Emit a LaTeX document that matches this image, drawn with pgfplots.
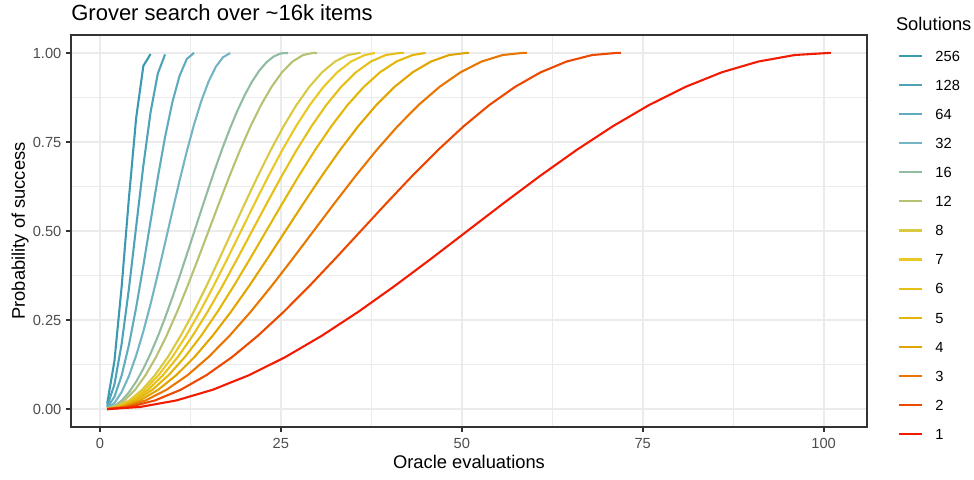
\documentclass[border=0pt]{standalone}
\usepackage{fontspec}
\setmainfont{Liberation Sans}
\usepackage{pgfplots}
\pgfplotsset{compat=1.18}
\definecolor{cA}{RGB}{59,154,178}
\definecolor{cB}{RGB}{78,163,184}
\definecolor{cC}{RGB}{96,172,190}
\definecolor{cD}{RGB}{115,181,196}
\definecolor{cE}{RGB}{146,188,161}
\definecolor{cF}{RGB}{182,194,114}
\definecolor{cG}{RGB}{217,201,66}
\definecolor{cH}{RGB}{234,200,36}
\definecolor{cI}{RGB}{230,191,23}
\definecolor{cJ}{RGB}{227,182,10}
\definecolor{cK}{RGB}{226,164,0}
\definecolor{cL}{RGB}{232,118,0}
\definecolor{cM}{RGB}{237,72,0}
\definecolor{cN}{RGB}{242,26,0}
\definecolor{gridc}{RGB}{235,235,235}
\definecolor{gtwenty}{RGB}{51,51,51}
\definecolor{gthirty}{RGB}{77,77,77}
\begin{document}
\begin{tikzpicture}
\path[use as bounding box] (0,0) rectangle (584.4pt,287.4pt);
\begin{axis}[
  at={(42.6pt,31.2pt)}, anchor=south west, scale only axis,
  width=477.6pt, height=235.2pt,
  xmin=-4, xmax=106, ymin=-0.05, ymax=1.05,
  xtick={0,25,50,75,100}, xticklabels={0,25,50,75,100},
  ytick={0,0.25,0.5,0.75,1}, yticklabels={0.00,0.25,0.50,0.75,1.00},
  minor xtick={12.5,37.5,62.5,87.5}, minor ytick={0.125,0.375,0.625,0.875},
  grid=both,
  major grid style={draw=gridc, line width=1.2pt},
  minor grid style={draw=gridc, line width=0.6pt},
  axis line style={draw=gtwenty, line width=1.1pt},
  tick align=outside, major tick length=2.75pt, minor tick length=0pt,
  major tick style={draw=gtwenty, line width=1.1pt},
  xtick pos=bottom, ytick pos=left,
  ticklabel style={font=\fontsize{8.8}{10}\selectfont, text=gthirty},
  xticklabel style={inner sep=0pt, anchor=north, text height=6.3pt, text depth=0pt},
  yticklabel style={inner sep=0pt, anchor=east, text height=6.3pt, text depth=0pt},
  xticklabel shift=3.65pt, yticklabel shift=2.85pt,
  every axis plot/.append style={line width=1.25pt},
  legend cell align=left,
  legend style={draw=none, fill=none, inner sep=0pt, outer sep=0pt,
    at={(1.0385,0.9605)}, anchor=north west, row sep=11.06pt,
    font=\fontsize{8.8}{10}\selectfont,
    nodes={inner sep=0pt, text height=6.4pt, text depth=0pt},
    /tikz/every odd column/.style={column sep=7.4pt}},
  legend image code/.code={\draw[#1, line width=1.3pt] (0pt,0pt) -- (14pt,0pt);},
]
\addplot[cA] coordinates {(1,0.0156)(2,0.1348)(3,0.3439)(4,0.5914)(5,0.8164)(6,0.9635)(7,0.9966)};
\addlegendentry{256}
\addplot[cB] coordinates {(1,0.0078)(2,0.0689)(3,0.1834)(4,0.3372)(5,0.5111)(6,0.6837)(7,0.8336)(8,0.9420)(9,0.9956)};
\addlegendentry{128}
\addplot[cC] coordinates {(1,0.0039)(2,0.0348)(3,0.0946)(4,0.1797)(5,0.2848)(6,0.4032)(7,0.5276)(8,0.6504)(9,0.7637)(10,0.8607)(11,0.9352)(12,0.9826)(13,0.99995)};
\addlegendentry{64}
\addplot[cD] coordinates {(1,0.0020)(2,0.0175)(3,0.0481)(4,0.0927)(5,0.1501)(6,0.2184)(7,0.2955)(8,0.3789)(9,0.4662)(10,0.5545)(11,0.6410)(12,0.7232)(13,0.7985)(14,0.8644)(15,0.9189)(16,0.9604)(17,0.9875)(18,0.9994)};
\addlegendentry{32}
\addplot[cE] coordinates {(1,0.0010)(2,0.0088)(3,0.0242)(4,0.0471)(5,0.0771)(6,0.1136)(7,0.1562)(8,0.2042)(9,0.2567)(10,0.3131)(11,0.3724)(12,0.4337)(13,0.4960)(14,0.5584)(15,0.6198)(16,0.6794)(17,0.7362)(18,0.7893)(19,0.8379)(20,0.8812)(21,0.9186)(22,0.9494)(23,0.9732)(24,0.9897)(25,0.9985)(26,0.9995)};
\addlegendentry{16}
\addplot[cF] coordinates {(1,0.0007)(1.951,0.0062)(3.402,0.0245)(4.853,0.0545)(6.304,0.0955)(7.754,0.1464)(9.205,0.2061)(10.656,0.2730)(12.107,0.3455)(13.558,0.4218)(15.009,0.5)(16.460,0.5782)(17.910,0.6545)(19.361,0.7270)(20.812,0.7939)(22.263,0.8536)(23.714,0.9045)(25.165,0.9455)(26.616,0.9755)(28.067,0.9938)(29.517,1.0)(30,0.9993)};
\addlegendentry{12}
\addplot[cG] coordinates {(1,0.0005)(2.277,0.0062)(4.054,0.0245)(5.831,0.0545)(7.608,0.0955)(9.385,0.1464)(11.162,0.2061)(12.939,0.2730)(14.716,0.3455)(16.493,0.4218)(18.270,0.5)(20.047,0.5782)(21.824,0.6545)(23.601,0.7270)(25.378,0.7939)(27.155,0.8536)(28.932,0.9045)(30.709,0.9455)(32.486,0.9755)(34.263,0.9938)(36,1.0)};
\addlegendentry{8}
\addplot[cH] coordinates {(1,0.0004)(2.400,0.0062)(4.299,0.0245)(6.199,0.0545)(8.099,0.0955)(9.999,0.1464)(11.898,0.2061)(13.798,0.2730)(15.698,0.3455)(17.598,0.4218)(19.497,0.5)(21.397,0.5782)(23.297,0.6545)(25.196,0.7270)(27.096,0.7939)(28.996,0.8536)(30.896,0.9045)(32.795,0.9455)(34.695,0.9755)(36.595,0.9938)(38,0.9996)};
\addlegendentry{7}
\addplot[cI] coordinates {(1,0.0004)(2.552,0.0062)(4.604,0.0245)(6.656,0.0545)(8.708,0.0955)(10.760,0.1464)(12.812,0.2061)(14.864,0.2730)(16.916,0.3455)(18.968,0.4218)(21.020,0.5)(23.071,0.5782)(25.123,0.6545)(27.175,0.7270)(29.227,0.7939)(31.279,0.8536)(33.331,0.9045)(35.383,0.9455)(37.435,0.9755)(39.487,0.9938)(41.539,1.0)(42,0.9997)};
\addlegendentry{6}
\addplot[cJ] coordinates {(1,0.0003)(2.748,0.0062)(4.996,0.0245)(7.244,0.0545)(9.491,0.0955)(11.739,0.1464)(13.987,0.2061)(16.235,0.2730)(18.483,0.3455)(20.730,0.4218)(22.978,0.5)(25.226,0.5782)(27.474,0.6545)(29.722,0.7270)(31.970,0.7939)(34.217,0.8536)(36.465,0.9045)(38.713,0.9455)(40.961,0.9755)(43.209,0.9938)(45,0.9997)};
\addlegendentry{5}
\addplot[cK] coordinates {(1,0.0002)(3.013,0.0062)(5.526,0.0245)(8.040,0.0545)(10.553,0.0955)(13.066,0.1464)(15.579,0.2061)(18.092,0.2730)(20.605,0.3455)(23.119,0.4218)(25.632,0.5)(28.145,0.5782)(30.658,0.6545)(33.171,0.7270)(35.685,0.7939)(38.198,0.8536)(40.711,0.9045)(43.224,0.9455)(45.737,0.9755)(48.250,0.9938)(50.764,1.0)(51,0.9999)};
\addlegendentry{4}
\addplot[cL] coordinates {(1,0.0002)(3.402,0.0062)(6.304,0.0245)(9.206,0.0545)(12.108,0.0955)(15.010,0.1464)(17.912,0.2061)(20.814,0.2730)(23.716,0.3455)(26.618,0.4218)(29.520,0.5)(32.422,0.5782)(35.324,0.6545)(38.226,0.7270)(41.128,0.7939)(44.030,0.8536)(46.932,0.9045)(49.834,0.9455)(52.736,0.9755)(55.638,0.9938)(58.540,1.0)(59,0.9998)};
\addlegendentry{3}
\addplot[cM] coordinates {(1,0.0001)(4.054,0.0062)(7.609,0.0245)(11.163,0.0545)(14.717,0.0955)(18.271,0.1464)(21.826,0.2061)(25.380,0.2730)(28.934,0.3455)(32.488,0.4218)(36.043,0.5)(39.597,0.5782)(43.151,0.6545)(46.706,0.7270)(50.260,0.7939)(53.814,0.8536)(57.368,0.9045)(60.923,0.9455)(64.477,0.9755)(68.031,0.9938)(71.585,1.0)(72,0.9999)};
\addlegendentry{2}
\addplot[cN] coordinates {(1,0.0001)(5.527,0.0062)(10.553,0.0245)(15.580,0.0545)(20.606,0.0955)(25.633,0.1464)(30.659,0.2061)(35.686,0.2730)(40.712,0.3455)(45.739,0.4218)(50.765,0.5)(55.792,0.5782)(60.818,0.6545)(65.845,0.7270)(70.871,0.7939)(75.898,0.8536)(80.924,0.9045)(85.951,0.9455)(90.977,0.9755)(96.004,0.9938)(101,1.0)};
\addlegendentry{1}
\end{axis}
\node[anchor=base west, inner sep=0pt, font=\fontsize{13.2}{15}\selectfont] at (42.6pt,275pt) {Grover search over \textasciitilde16k items};
\node[anchor=base, inner sep=0pt, font=\fontsize{11}{13}\selectfont] at (281.4pt,6.4pt) {Oracle evaluations};
\node[anchor=base, rotate=90, inner sep=0pt, font=\fontsize{11}{13}\selectfont] at (15pt,148.8pt) {Probability of success};
\node[anchor=base west, inner sep=0pt, font=\fontsize{11}{13}\selectfont] at (537.4pt,269.4pt) {Solutions};
\end{tikzpicture}
\end{document}
